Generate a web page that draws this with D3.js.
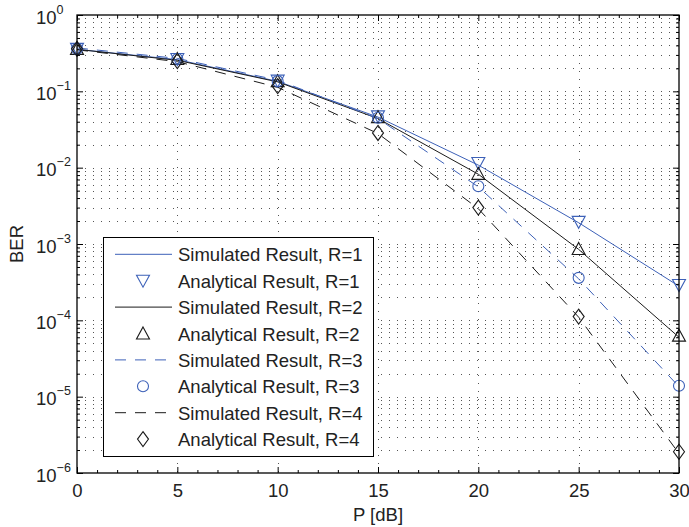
<!DOCTYPE html>
<html>
<head>
<meta charset="utf-8">
<script src="https://cdn.jsdelivr.net/npm/d3@7"></script>
<style>
  html, body { margin: 0; padding: 0; background: #fff; }
  svg { display: block; font-family: "Liberation Sans", Arial, sans-serif; }
</style>
</head>
<body>
<svg id="chart" width="689" height="527"></svg>
<script>
// ---------------- data ----------------
const P = [0, 5, 10, 15, 20, 25, 30];

const simR1 = [0.355, 0.26, 0.135, 0.046, 0.0108, 0.0019, 0.00028];
const anaR1 = [0.36, 0.265, 0.138, 0.047, 0.0115, 0.00195, 0.00029];
const simR2 = [0.355, 0.255, 0.133, 0.044, 0.0082, 0.00085, 0.00006];
const anaR2 = [0.36, 0.265, 0.136, 0.046, 0.0083, 0.00086, 0.000063];
const simR3 = [0.37, 0.27, 0.14, 0.044, 0.0056, 0.00035, 0.0000135];
const anaR3 = [0.36, 0.265, 0.136, 0.045, 0.0057, 0.00036, 0.0000139];
const simR4 = [0.35, 0.245, 0.113, 0.028, 0.0029, 0.00011, 0.0000018];
const anaR4 = [0.36, 0.25, 0.117, 0.0285, 0.003, 0.000112, 0.0000019];

const xTicks = [0, 5, 10, 15, 20, 25, 30];
const yTickExps = [0, -1, -2, -3, -4, -5, -6];

const legendLabels = [
  "Simulated Result, R=1", "Analytical Result, R=1",
  "Simulated Result, R=2", "Analytical Result, R=2",
  "Simulated Result, R=3", "Analytical Result, R=3",
  "Simulated Result, R=4", "Analytical Result, R=4"
];
const xLabel = "P [dB]";
const yLabel = "BER";

// ---------------- layout ----------------
const BLUE = "#3d61b8";
const BLACK = "#1a1a1a";
const pL = 77, pR = 679, pT = 15, pB = 473;

const svg = d3.select("#chart");
const x = d3.scaleLinear().domain([0, 30]).range([pL, pR]);
const y = d3.scaleLog().domain([1e-6, 1]).range([pB, pT]);

// ---------------- grid ----------------
const grid = svg.append("g").attr("stroke", "#555").attr("stroke-width", 1)
  .attr("stroke-dasharray", "1,7").attr("fill", "none");
const yGridVals = [];
for (let e = -6; e < 0; e++) for (let m = 1; m <= 9; m++) yGridVals.push(m * Math.pow(10, e));
grid.selectAll("line.h").data(yGridVals.filter(v => v > 1e-6)).join("line")
  .attr("x1", pL).attr("x2", pR)
  .attr("y1", d => Math.round(y(d)) + 0.5).attr("y2", d => Math.round(y(d)) + 0.5);
grid.selectAll("line.v").data(xTicks.slice(1, -1)).join("line")
  .attr("y1", pT).attr("y2", pB)
  .attr("x1", d => Math.round(x(d)) + 0.5).attr("x2", d => Math.round(x(d)) + 0.5);

// ---------------- series ----------------
const series = [
  { sim: simR1, ana: anaR1, color: BLUE, dash: null, marker: "tridown" },
  { sim: simR2, ana: anaR2, color: BLACK, dash: null, marker: "triup" },
  { sim: simR3, ana: anaR3, color: BLUE, dash: "11,9", marker: "circle" },
  { sim: simR4, ana: anaR4, color: BLACK, dash: "11,9", marker: "diamond" }
];

const markerPath = {
  tridown: "M-6.5,-5.5L6.5,-5.5L0,6.5Z",
  triup: "M0,-6.5L6.5,5.5L-6.5,5.5Z",
  circle: "M5.5,0A5.5,5.5 0 1,1 -5.5,0A5.5,5.5 0 1,1 5.5,0Z",
  diamond: "M0,-7.5L5.5,0L0,7.5L-5.5,0Z"
};

const line = d3.line().x(d => x(d[0])).y(d => y(d[1]));
const plot = svg.append("g");
series.forEach(s => {
  plot.append("path")
    .attr("d", line(P.map((p, i) => [p, s.sim[i]])))
    .attr("fill", "none").attr("stroke", s.color).attr("stroke-width", 1)
    .attr("stroke-dasharray", s.dash);
});
series.forEach(s => {
  plot.selectAll(null).data(P.map((p, i) => [p, s.ana[i]])).join("path")
    .attr("transform", d => `translate(${x(d[0])},${y(d[1])})`)
    .attr("d", markerPath[s.marker])
    .attr("fill", "none").attr("stroke", s.color).attr("stroke-width", 1.1);
});

// ---------------- axes ----------------
const fontSize = 18.5;
const minorX = d3.range(0, 31, 1).filter(v => v % 5 !== 0);
const minorY = yGridVals.filter(v => Math.abs(Math.log10(v) - Math.round(Math.log10(v))) > 1e-9);

function styleAxis(g) {
  g.select(".domain").remove();
  g.selectAll(".tick line").attr("stroke", "#000").attr("stroke-width", 1);
}

// bottom
const xAxisB = svg.append("g").attr("transform", `translate(0,${pB})`)
  .call(d3.axisBottom(x).tickValues(xTicks).tickSizeInner(-6).tickSizeOuter(0).tickPadding(12).tickFormat(d3.format("d")));
styleAxis(xAxisB);
xAxisB.attr("font-family", null);
xAxisB.selectAll("text").attr("font-size", fontSize).attr("fill", "#222")
  .attr("dy", null).attr("y", 24);
svg.append("g").attr("transform", `translate(0,${pB})`)
  .call(d3.axisBottom(x).tickValues(minorX).tickSizeInner(-3).tickSizeOuter(0).tickFormat(""))
  .call(styleAxis);
// top
svg.append("g").attr("transform", `translate(0,${pT})`)
  .call(d3.axisTop(x).tickValues(xTicks).tickSizeInner(-6).tickSizeOuter(0).tickFormat(""))
  .call(styleAxis);
svg.append("g").attr("transform", `translate(0,${pT})`)
  .call(d3.axisTop(x).tickValues(minorX).tickSizeInner(-3).tickSizeOuter(0).tickFormat(""))
  .call(styleAxis);
// left
const yMajor = yTickExps.map(e => Math.pow(10, e));
const yAxisL = svg.append("g").attr("transform", `translate(${pL},0)`)
  .call(d3.axisLeft(y).tickValues(yMajor).tickSizeInner(-6).tickSizeOuter(0).tickFormat(""));
styleAxis(yAxisL);
yAxisL.attr("font-family", null);
yAxisL.selectAll(".tick").each(function(d) {
  const e = Math.round(Math.log10(d));
  const t = d3.select(this).append("text")
    .attr("x", 36 - pL).attr("y", 8).attr("text-anchor", "start")
    .attr("font-size", fontSize).attr("fill", "#222");
  t.append("tspan").text("10");
  t.append("tspan").attr("font-size", 12.5).attr("dy", -10)
    .text(e === 0 ? "0" : "\u2212" + Math.abs(e));
});
svg.append("g").attr("transform", `translate(${pL},0)`)
  .call(d3.axisLeft(y).tickValues(minorY).tickSizeInner(-3).tickSizeOuter(0).tickFormat(""))
  .call(styleAxis);
// right
svg.append("g").attr("transform", `translate(${pR},0)`)
  .call(d3.axisRight(y).tickValues(yMajor).tickSizeInner(-6).tickSizeOuter(0).tickFormat(""))
  .call(styleAxis);
svg.append("g").attr("transform", `translate(${pR},0)`)
  .call(d3.axisRight(y).tickValues(minorY).tickSizeInner(-3).tickSizeOuter(0).tickFormat(""))
  .call(styleAxis);

// box
svg.append("rect").attr("x", pL).attr("y", pT)
  .attr("width", pR - pL).attr("height", pB - pT)
  .attr("fill", "none").attr("stroke", "#000").attr("stroke-width", 1.3);

// axis labels
svg.append("text").attr("x", (pL + pR) / 2).attr("y", 521)
  .attr("text-anchor", "middle").attr("font-size", fontSize).attr("fill", "#222").text(xLabel);
svg.append("text").attr("transform", `translate(23,${(pT + pB) / 2}) rotate(-90)`)
  .attr("text-anchor", "middle").attr("font-size", fontSize).attr("fill", "#222").text(yLabel);

// ---------------- legend ----------------
const lg = svg.append("g");
const lgX = 103, lgY = 237, lgW = 270, lgH = 219, rowH = 26.4, row0 = 254.3;
lg.append("rect").attr("x", lgX + 0.5).attr("y", lgY + 0.5).attr("width", lgW).attr("height", lgH)
  .attr("fill", "#fff").attr("stroke", "#000").attr("stroke-width", 1);
legendLabels.forEach((lab, i) => {
  const s = series[Math.floor(i / 2)];
  const cy = row0 + i * rowH;
  if (i % 2 === 0) {
    lg.append("line").attr("x1", 115).attr("x2", 172).attr("y1", cy).attr("y2", cy)
      .attr("stroke", s.color).attr("stroke-width", 1).attr("stroke-dasharray", s.dash);
  } else {
    lg.append("path").attr("transform", `translate(143,${cy})`)
      .attr("d", markerPath[s.marker]).attr("fill", "none")
      .attr("stroke", s.color).attr("stroke-width", 1.1);
  }
  lg.append("text").attr("x", 178).attr("y", cy + 7)
    .attr("font-size", fontSize).attr("fill", "#222").text(lab);
});
</script>
</body>
</html>
